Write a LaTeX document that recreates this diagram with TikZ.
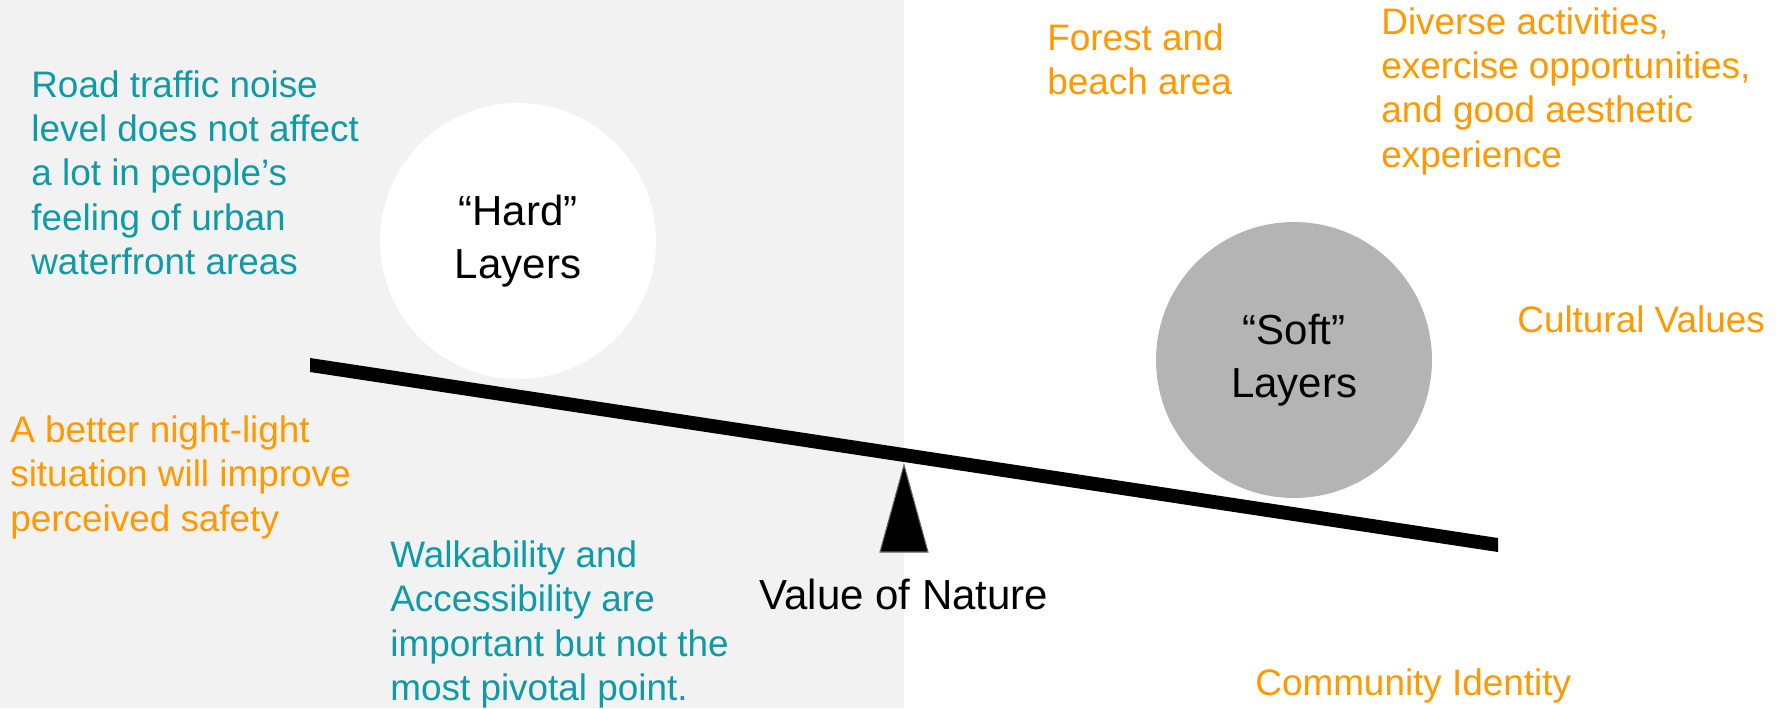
\documentclass[tikz,border=0pt]{standalone}
\usepackage{fontspec}
\setmainfont{Liberation Sans}
\definecolor{ntteal}{RGB}{14,154,167}
\definecolor{ntorange}{RGB}{255,153,0}
\definecolor{ntpanel}{RGB}{242,242,242}
\definecolor{ntsoft}{RGB}{180,180,180}
\usetikzlibrary{positioning}

\begin{document}
\begin{tikzpicture}[x=0.02cm,y=-0.02cm,
  findnote/.style={anchor=north west,inner sep=0pt,align=left,font=\fontsize{21}{25.3}\selectfont},
  hardnote/.style={findnote,text=ntteal},
  softnote/.style={findnote,text=ntorange},
  layer/.style={circle,minimum size=5.52cm,inner sep=0pt,align=center,font=\fontsize{23.9}{30.2}\selectfont}
]
  \fill[white] (0,0) rectangle (1787,708);
  \fill[ntpanel] (0,0) rectangle (904,708);
  \useasboundingbox (0,0) rectangle (1787,708);

  % the two weights
  \node[layer,fill=white] (hard) at (518,241) {``Hard''\\Layers};
  \node[layer,fill=ntsoft] (soft) at (1294,360) {``Soft''\\Layers};

  % beam and pivot
  \coordinate (pivot) at (904,465);
  \fill[black] (310,358) -- (1498,538) -- (1498,552) -- (310,372) -- cycle;
  \filldraw[fill=black,draw=black!60,line width=0.6pt] (pivot) -- (928,552) -- (880,552) -- cycle;
  \node[anchor=base,inner sep=0pt,font=\fontsize{23.9}{30.2}\selectfont] (nature) at (904,609) {Value of Nature};

  % hard layer findings
  \node[hardnote] (noise) at (31,70) {Road traffic noise\\level does not affect\\a lot in people's\\feeling of urban\\waterfront areas};
  \node[softnote] (light) at (10,415) {A better night-light\\situation will improve\\perceived safety};
  \node[hardnote] (walk) at (390,540) {Walkability and\\Accessibility are\\important but not the\\most pivotal point.};

  % soft layer findings
  \node[softnote] (forest) at (1047,23) {Forest and\\beach area};
  \node[softnote] (activity) at (1381,7) {Diverse activities,\\exercise opportunities,\\and good aesthetic\\experience};
  \node[softnote,anchor=base west] (culture) at (1517,332) {Cultural Values};
  \node[softnote,anchor=base west] (identity) at (1255,695) {Community Identity};
\end{tikzpicture}
\end{document}
